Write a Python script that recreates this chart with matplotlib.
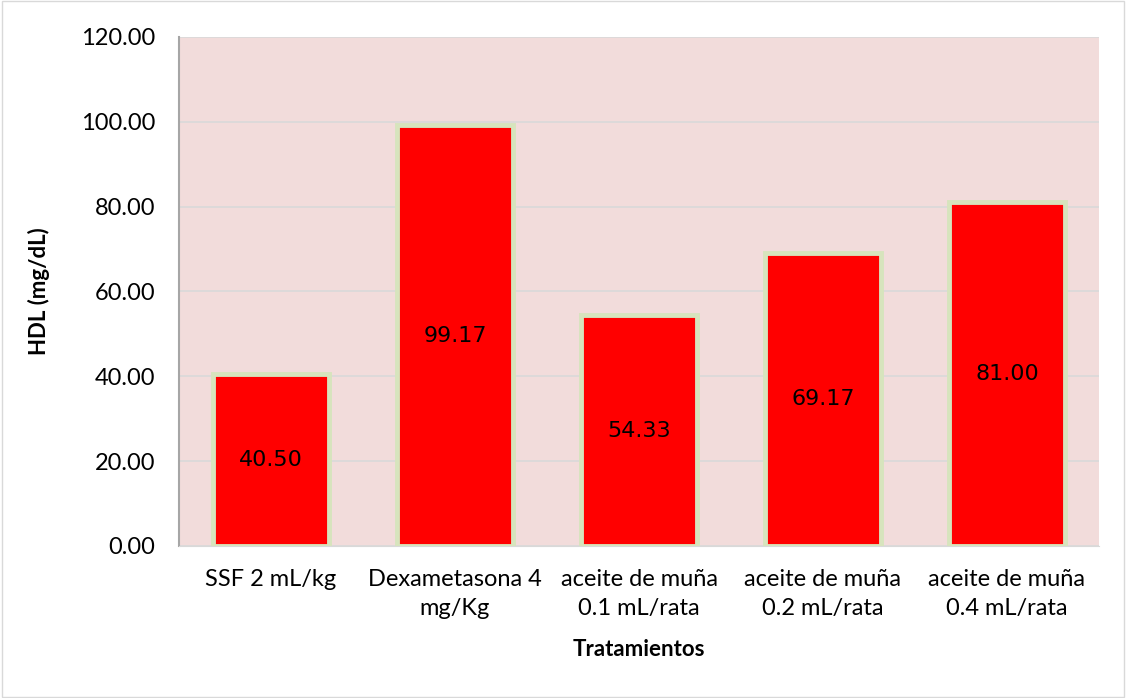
import matplotlib.pyplot as plt
import numpy as np

tratamientos = ["SSF 2 mL/kg", "Dexametasona 4\nmg/Kg", "aceite de muña\n0.1 mL/rata",
                "aceite de muña\n0.2 mL/rata", "aceite de muña\n0.4 mL/rata"]
hdl = [40.50, 99.17, 54.33, 69.17, 81.00]
yticks = [0, 20, 40, 60, 80, 100, 120]

plt.rcParams['font.family'] = ['Lato', 'DejaVu Sans']

fig = plt.figure(figsize=(11.26, 6.98), dpi=100)
ax = fig.add_axes([0.159, 0.218, 0.817, 0.729])
ax.set_facecolor("#f2dcdb")

x = np.arange(len(hdl))
bars = ax.bar(x, hdl, width=0.63, color="#ff0000", edgecolor="#d7e4bd", linewidth=3.5, zorder=3)

for b, v in zip(bars, hdl):
    ax.text(b.get_x() + b.get_width() / 2, v / 2, f"{v:.2f}", ha="center", va="center",
            fontsize=16, family="DejaVu Sans", zorder=4)

ax.set_xlim(-0.5, len(hdl) - 0.5)
ax.set_ylim(0, 120)
ax.set_yticks(yticks)
ax.set_yticklabels([f"{t:.2f}" for t in yticks], fontsize=17)
ax.set_xticks(x)
ax.set_xticklabels(tratamientos, fontsize=17, linespacing=1.45)
ax.tick_params(axis="y", length=0, pad=17)
ax.tick_params(axis="x", length=0, pad=17)
ax.yaxis.grid(True, color="#d9d9d9", linewidth=1.2, zorder=0)

for s in ["top", "right"]:
    ax.spines[s].set_visible(False)
ax.spines["left"].set_color("#a6a6a6")
ax.spines["left"].set_linewidth(1.5)
ax.spines["bottom"].set_color("#d9d9d9")

ax.set_xlabel("Tratamientos", fontsize=16, fontweight="bold", labelpad=14)
ax.set_ylabel("HDL (mg/dL)", fontsize=16, fontweight="bold", labelpad=22)

fig.patches.append(plt.Rectangle((0.002, 0.002), 0.996, 0.996, transform=fig.transFigure,
                                 fill=False, edgecolor="#d9d9d9", linewidth=1))

fig.savefig("out.png", dpi=100)
